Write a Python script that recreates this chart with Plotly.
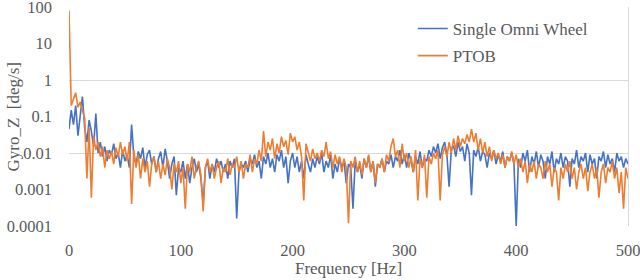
import plotly.graph_objects as go

series_names = ["Single Omni Wheel", "PTOB"]

# Gyro_Z spectrum [deg/s], 2 Hz bins from 0 to 500 Hz
single_omni = [
    0.045, 0.15, 0.06, 0.2, 0.03, 0.12, 0.35, 0.05, 0.02, 0.08,
    0.04, 0.015, 0.12, 0.01, 0.02, 0.008, 0.015, 0.006, 0.012, 0.009,
    0.018, 0.007, 0.01, 0.004, 0.012, 0.006, 0.009, 0.004, 0.06, 0.008,
    0.005, 0.011, 0.007, 0.014, 0.004, 0.009, 0.012, 0.005, 0.008, 0.003,
    0.007, 0.011, 0.004, 0.013, 0.006, 0.002, 0.005, 0.008, 0.0007, 0.004,
    0.003, 0.006, 0.002, 0.005, 0.0015, 0.004, 0.007, 0.003, 0.005, 0.002,
    0.0004, 0.004, 0.006, 0.002, 0.005, 0.003, 0.007, 0.004, 0.006, 0.003,
    0.005, 0.002, 0.006, 0.004, 0.007, 0.00016, 0.003, 0.005, 0.004, 0.006,
    0.003, 0.007, 0.005, 0.009, 0.004, 0.006, 0.002, 0.008, 0.005, 0.01,
    0.004, 0.007, 0.003, 0.009, 0.006, 0.012, 0.004, 0.008, 0.0015, 0.006,
    0.01, 0.004, 0.008, 0.003, 0.006, 0.002, 0.009, 0.005, 0.003, 0.007,
    0.004, 0.008, 0.005, 0.01, 0.003, 0.006, 0.004, 0.009, 0.002, 0.005,
    0.003, 0.007, 0.004, 0.006, 0.0015, 0.005, 0.004, 0.0003, 0.006, 0.003,
    0.005, 0.002, 0.007, 0.004, 0.008, 0.003, 0.006, 0.0012, 0.005, 0.004,
    0.007, 0.003, 0.006, 0.005, 0.009, 0.004, 0.008, 0.006, 0.012, 0.005,
    0.009, 0.004, 0.01, 0.006, 0.003, 0.008, 0.005, 0.011, 0.004, 0.007,
    0.006, 0.012, 0.008, 0.015, 0.01, 0.018, 0.007, 0.014, 0.02, 0.009,
    0.0012, 0.013, 0.016, 0.008, 0.02, 0.011, 0.015, 0.006, 0.018, 0.01,
    0.0007, 0.012, 0.008, 0.015, 0.006, 0.011, 0.009, 0.004, 0.01, 0.007,
    0.012, 0.005, 0.009, 0.006, 0.011, 0.004, 0.008, 0.006, 0.01, 0.005,
    0.0001, 0.007, 0.004, 0.01, 0.006, 0.012, 0.003, 0.008, 0.005, 0.011,
    0.004, 0.009, 0.006, 0.002, 0.008, 0.005, 0.011, 0.003, 0.007, 0.005,
    0.01, 0.004, 0.008, 0.006, 0.0012, 0.007, 0.005, 0.012, 0.004, 0.008,
    0.006, 0.01, 0.003, 0.009, 0.005, 0.007, 0.002, 0.008, 0.006, 0.011,
    0.004, 0.009, 0.005, 0.007, 0.003, 0.01, 0.006, 0.008, 0.004, 0.007,
    0.005,
]

ptob = [
    80, 0.2, 0.3, 0.45, 0.18, 0.25, 0.15, 0.09, 0.002, 0.05,
    0.0006, 0.03, 0.012, 0.02, 0.008, 0.015, 0.004, 0.012, 0.007, 0.011,
    0.005, 0.014, 0.008, 0.02, 0.009, 0.015, 0.006, 0.02, 0.0004, 0.012,
    0.004, 0.009, 0.002, 0.007, 0.003, 0.006, 0.0012, 0.005, 0.008, 0.003,
    0.006, 0.002, 0.005, 0.0025, 0.007, 0.004, 0.001, 0.005, 0.003, 0.006,
    0.0015, 0.004, 0.0003, 0.005, 0.003, 0.008, 0.002, 0.004, 0.006, 0.0025,
    0.00025, 0.004, 0.007, 0.003, 0.005, 0.002, 0.004, 0.006, 0.0015, 0.004,
    0.003, 0.007, 0.0025, 0.005, 0.004, 0.008, 0.003, 0.006, 0.002, 0.005,
    0.004, 0.009, 0.003, 0.007, 0.005, 0.012, 0.006, 0.04, 0.008, 0.02,
    0.012, 0.025, 0.007, 0.018, 0.01, 0.028, 0.015, 0.022, 0.009, 0.035,
    0.02, 0.028, 0.012, 0.02, 0.008, 0.0005, 0.018, 0.01, 0.006, 0.013,
    0.007, 0.01, 0.006, 0.012, 0.008, 0.02, 0.007, 0.011, 0.004, 0.009,
    0.005, 0.008, 0.003, 0.007, 0.004, 0.00012, 0.006, 0.004, 0.008, 0.003,
    0.006, 0.0025, 0.007, 0.004, 0.009, 0.003, 0.006, 0.0015, 0.005, 0.004,
    0.007, 0.003, 0.009, 0.006, 0.015, 0.025, 0.008, 0.012, 0.004, 0.018,
    0.006, 0.01, 0.004, 0.008, 0.003, 0.012, 0.0005, 0.007, 0.004, 0.009,
    0.0006, 0.008, 0.005, 0.01, 0.007, 0.012, 0.0005, 0.009, 0.015, 0.008,
    0.02, 0.01, 0.025, 0.012, 0.03, 0.015, 0.025, 0.018, 0.032, 0.02,
    0.045, 0.02, 0.035, 0.012, 0.025, 0.01, 0.02, 0.008, 0.015, 0.006,
    0.012, 0.007, 0.01, 0.005, 0.009, 0.004, 0.008, 0.006, 0.011, 0.005,
    0.009, 0.004, 0.007, 0.003, 0.006, 0.0015, 0.005, 0.003, 0.006, 0.002,
    0.005, 0.004, 0.002, 0.006, 0.003, 0.005, 0.0012, 0.004, 0.003, 0.0005,
    0.004, 0.002, 0.005, 0.003, 0.006, 0.002, 0.004, 0.001, 0.003, 0.005,
    0.002, 0.004, 0.0009, 0.003, 0.005, 0.002, 0.004, 0.0006, 0.003, 0.005,
    0.0015, 0.004, 0.003, 0.006, 0.002, 0.004, 0.0008, 0.003, 0.0003, 0.004,
    0.002,
]

freq_step = 2
freq_single = [i * freq_step for i in range(len(single_omni))]
freq_ptob = [i * freq_step for i in range(len(ptob))]

x_ticks = [0, 100, 200, 300, 400, 500]
y_ticks = [0.0001, 0.001, 0.01, 0.1, 1, 10, 100]
y_tick_text = ["0.0001", "0.001", "0.01", "0.1", "1", "10", "100"]
y_grid = [0.01, 1, 100]

FONT = "Liberation Serif"
GREY = "#595959"
L, R, T, B = 69, 12, 7, 54
W, H = 640, 280
plot_w = W - L - R

fig = go.Figure()
fig.add_trace(go.Scatter(x=[None], y=[None], yaxis="y2", showlegend=False, hoverinfo="skip"))
fig.add_trace(go.Scatter(x=freq_single, y=single_omni, mode="lines", name=series_names[0],
                         line=dict(color="#4472C4", width=1.6), legendgroup="a"))
fig.add_trace(go.Scatter(x=freq_ptob, y=ptob, mode="lines", name=series_names[1],
                         line=dict(color="#ED7D31", width=1.6), legendgroup="b"))

fig.update_layout(
    width=W, height=H,
    margin=dict(l=L, r=R, t=T, b=B, autoexpand=False),
    paper_bgcolor="white", plot_bgcolor="rgba(0,0,0,0)",
    font=dict(family=FONT, size=16, color=GREY),
    showlegend=True,
    legend=dict(x=0.615, y=0.982, xanchor="left", yanchor="top",
                bgcolor="rgba(0,0,0,0)", font=dict(family=FONT, size=17, color=GREY),
                tracegroupgap=2, itemwidth=30),
    xaxis=dict(range=[0, 500], tickvals=x_ticks, showgrid=False, zeroline=False,
               showline=False, ticks="", ticklabelstandoff=12, automargin=False,
               ticklabeloverflow="allow",
               title=dict(text="Frequency [Hz]", standoff=2,
                          font=dict(family=FONT, size=17, color=GREY)),
               tickfont=dict(family=FONT, size=16.5, color=GREY)),
    yaxis=dict(type="log", range=[-4, 2.002], tickvals=y_ticks, ticktext=y_tick_text,
               showgrid=False, zeroline=False, showline=False, ticks="",
               ticklabelstandoff=16, automargin=False, ticklabeloverflow="allow",
               tickfont=dict(family=FONT, size=16.5, color=GREY)),
    yaxis2=dict(type="log", range=[-4, 2.002], overlaying="y", side="right",
                tickvals=y_grid, showticklabels=False, showgrid=True,
                gridcolor="#d9d9d9", gridwidth=1, showline=True,
                linecolor="#d9d9d9", linewidth=1, ticks="", zeroline=False,
                automargin=False),
    annotations=[dict(text="Gyro_Z  [deg/s]", textangle=-90, xref="paper", yref="paper",
                      x=(13 - L) / plot_w, y=0.5, xanchor="center", yanchor="middle",
                      showarrow=False, font=dict(family=FONT, size=17, color=GREY))],
)

fig.write_html("out.html", config={"displayModeBar": False},
               post_script="document.body.style.margin='0';")
